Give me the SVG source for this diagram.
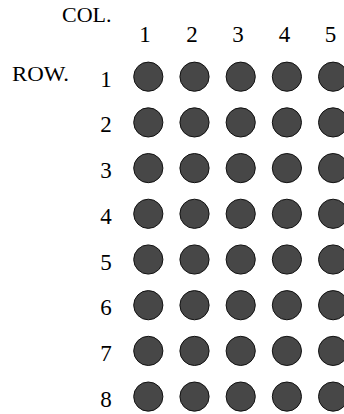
<svg xmlns="http://www.w3.org/2000/svg" width="344" height="414" viewBox="0 0 344 414">
<style>
.t{font-family:'Liberation Serif','Times New Roman',Times,serif;font-size:22px;fill:#000}
.n{font-size:23px}
.c{text-anchor:middle}
.dot{fill:#474747;stroke:#111;stroke-width:1}
</style>
<defs><circle id="d" class="dot" r="14.6"/></defs>
<rect width="344" height="414" fill="#fff"/>
<g id="headers" class="t">
<text x="62" y="22">COL.</text>
<text x="12" y="80.5" textLength="57" lengthAdjust="spacingAndGlyphs">ROW.</text>
</g>
<g id="col-labels" class="t n c">
<text x="145" y="41.5">1</text>
<text x="192" y="41.5">2</text>
<text x="238" y="41.5">3</text>
<text x="284.5" y="41.5">4</text>
<text x="330.5" y="41.5">5</text>
</g>
<g id="row-labels" class="t n c">
<text x="106" y="86.7">1</text>
<text x="106" y="132.4">2</text>
<text x="106" y="178.1">3</text>
<text x="106" y="223.8">4</text>
<text x="106" y="269.5">5</text>
<text x="106" y="315.2">6</text>
<text x="106" y="360.9">7</text>
<text x="106" y="406.6">8</text>
</g>
<g id="grid">
<g id="row1"><use href="#d" x="148.3" y="76.7"/><use href="#d" x="194.5" y="76.7"/><use href="#d" x="240.7" y="76.7"/><use href="#d" x="286.9" y="76.7"/><use href="#d" x="333.1" y="76.7"/></g>
<g id="row2"><use href="#d" x="148.3" y="122.4"/><use href="#d" x="194.5" y="122.4"/><use href="#d" x="240.7" y="122.4"/><use href="#d" x="286.9" y="122.4"/><use href="#d" x="333.1" y="122.4"/></g>
<g id="row3"><use href="#d" x="148.3" y="168.1"/><use href="#d" x="194.5" y="168.1"/><use href="#d" x="240.7" y="168.1"/><use href="#d" x="286.9" y="168.1"/><use href="#d" x="333.1" y="168.1"/></g>
<g id="row4"><use href="#d" x="148.3" y="213.8"/><use href="#d" x="194.5" y="213.8"/><use href="#d" x="240.7" y="213.8"/><use href="#d" x="286.9" y="213.8"/><use href="#d" x="333.1" y="213.8"/></g>
<g id="row5"><use href="#d" x="148.3" y="259.5"/><use href="#d" x="194.5" y="259.5"/><use href="#d" x="240.7" y="259.5"/><use href="#d" x="286.9" y="259.5"/><use href="#d" x="333.1" y="259.5"/></g>
<g id="row6"><use href="#d" x="148.3" y="305.2"/><use href="#d" x="194.5" y="305.2"/><use href="#d" x="240.7" y="305.2"/><use href="#d" x="286.9" y="305.2"/><use href="#d" x="333.1" y="305.2"/></g>
<g id="row7"><use href="#d" x="148.3" y="350.9"/><use href="#d" x="194.5" y="350.9"/><use href="#d" x="240.7" y="350.9"/><use href="#d" x="286.9" y="350.9"/><use href="#d" x="333.1" y="350.9"/></g>
<g id="row8"><use href="#d" x="148.3" y="396.6"/><use href="#d" x="194.5" y="396.6"/><use href="#d" x="240.7" y="396.6"/><use href="#d" x="286.9" y="396.6"/><use href="#d" x="333.1" y="396.6"/></g>
</g>
</svg>
